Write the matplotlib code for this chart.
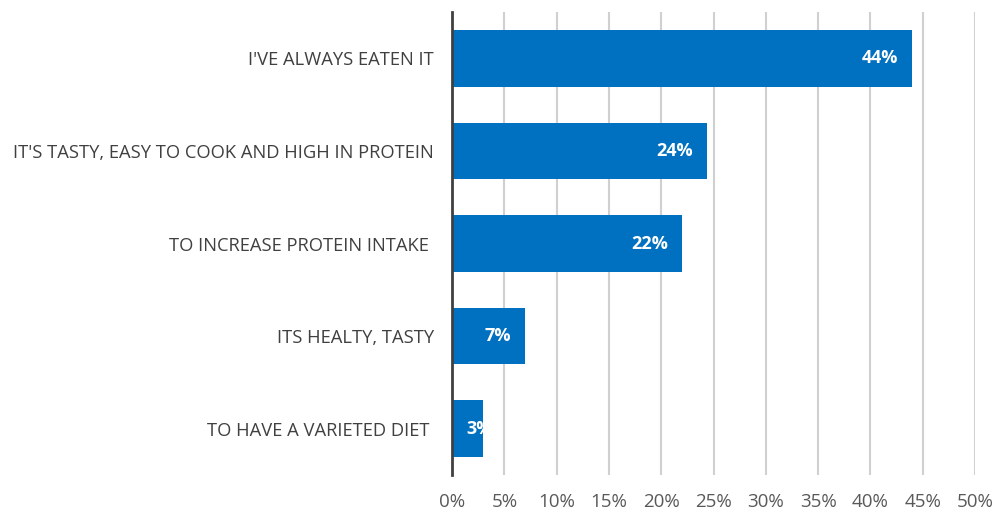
import matplotlib.pyplot as plt
from matplotlib.ticker import PercentFormatter

# Data
reasons = ["I'VE ALWAYS EATEN IT",
           "IT'S TASTY, EASY TO COOK AND HIGH IN PROTEIN",
           "TO INCREASE PROTEIN INTAKE ",
           "ITS HEALTY, TASTY",
           "TO HAVE A VARIETED DIET "]
shares = [44.0, 24.4, 22.0, 7.0, 3.0]
value_labels = ["44%", "24%", "22%", "7%", "3%"]

plt.rcParams['font.family'] = ['Open Sans', 'DejaVu Sans']

fig = plt.figure(figsize=(9.97, 5.16), dpi=100)
ax = fig.add_axes([0.4534, 0.0795, 0.5246, 0.8972])

y = list(range(len(reasons)))
bars = ax.barh(y, shares, height=0.61, color="#0070C0", zorder=3)
ax.set_ylim(len(reasons) - 0.5, -0.5)
ax.set_xlim(0, 50)

ax.set_yticks(y)
ax.set_yticklabels(reasons, fontsize=13.2, color="#404040")
ax.set_xticks(range(0, 51, 5))
ax.xaxis.set_major_formatter(PercentFormatter(decimals=0))
ax.tick_params(axis="x", labelsize=13.5, colors="#595959", length=0, pad=13)
ax.tick_params(axis="y", length=0, pad=13)

# value labels inside bar ends; too-short bars get the label from the bar start, clipped
for bar, txt in zip(bars, value_labels):
    yc = bar.get_y() + bar.get_height() / 2
    if bar.get_width() > 5:
        t = ax.annotate(txt, (bar.get_width(), yc), xytext=(-10, 0),
                        textcoords="offset points", ha="right", va="center")
    else:
        t = ax.annotate(txt, (0, yc), xytext=(10, 0),
                        textcoords="offset points", ha="left", va="center")
        t.set_clip_path(bar)
    t.set_color("white")
    t.set_fontsize(13)
    t.set_fontweight("bold")
    t.set_zorder(4)

ax.grid(axis="x", color="#d0d0d0", linewidth=1.5, zorder=0)
for side in ["top", "right", "bottom"]:
    ax.spines[side].set_visible(False)
ax.spines["left"].set_color("#404040")
ax.spines["left"].set_linewidth(2)
ax.spines["left"].set_zorder(5)

fig.savefig("out.png", dpi=100)
